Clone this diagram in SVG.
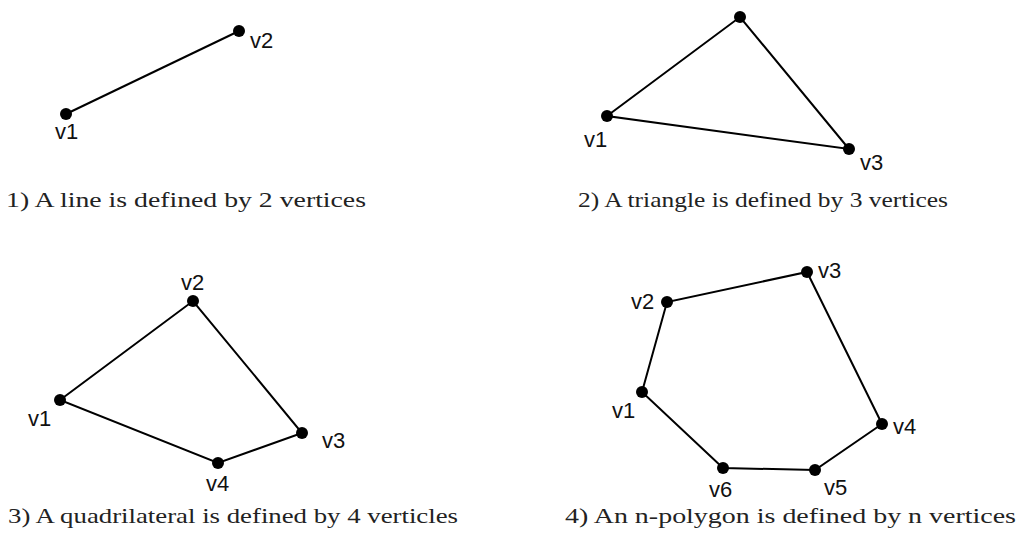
<svg xmlns="http://www.w3.org/2000/svg" width="1020" height="536" viewBox="0 0 1020 536">
<style>
.e{stroke:#000;stroke-width:2;fill:none}
.d{fill:#000}
.l{font-family:"Liberation Sans",Arial,sans-serif;font-size:22px;fill:#111}
.c{font-family:"Liberation Serif","Times New Roman",serif;font-size:22px;fill:#222}
</style>
<rect width="1020" height="536" fill="#fff"/>
<g id="connectors">
<line class="e" x1="66" y1="114" x2="239" y2="31"/>
<polygon class="e" points="607,116 740,17 849,149"/>
<polygon class="e" points="60,400 193,301 302,433 218,463"/>
<polygon class="e" points="642,392 667,302 807,272 882,424 815,470 723,468"/>
</g>
<g id="p1v1"><circle class="d" cx="66" cy="114" r="6"/><text class="l" x="55" y="139">v1</text></g>
<g id="p1v2"><circle class="d" cx="239" cy="31" r="6"/><text class="l" x="250" y="48">v2</text></g>
<g id="p2top"><circle class="d" cx="740" cy="17" r="6"/></g>
<g id="p2v1"><circle class="d" cx="607" cy="116" r="6"/><text class="l" x="584" y="147">v1</text></g>
<g id="p2v3"><circle class="d" cx="849" cy="149" r="6"/><text class="l" x="860" y="170">v3</text></g>
<g id="p3v1"><circle class="d" cx="60" cy="400" r="6"/><text class="l" x="28" y="426">v1</text></g>
<g id="p3v2"><circle class="d" cx="193" cy="301" r="6"/><text class="l" x="181" y="290">v2</text></g>
<g id="p3v3"><circle class="d" cx="302" cy="433" r="6"/><text class="l" x="322" y="448">v3</text></g>
<g id="p3v4"><circle class="d" cx="218" cy="463" r="6"/><text class="l" x="206" y="491">v4</text></g>
<g id="p4v1"><circle class="d" cx="642" cy="392" r="6"/><text class="l" x="612" y="418">v1</text></g>
<g id="p4v2"><circle class="d" cx="667" cy="302" r="6"/><text class="l" x="631" y="309">v2</text></g>
<g id="p4v3"><circle class="d" cx="807" cy="272" r="6"/><text class="l" x="818" y="278">v3</text></g>
<g id="p4v4"><circle class="d" cx="882" cy="424" r="6"/><text class="l" x="893" y="434">v4</text></g>
<g id="p4v5"><circle class="d" cx="815" cy="470" r="6"/><text class="l" x="824" y="495">v5</text></g>
<g id="p4v6"><circle class="d" cx="723" cy="468" r="6"/><text class="l" x="709" y="497">v6</text></g>
<g id="captions">
<text class="c" x="6" y="207" textLength="360" lengthAdjust="spacingAndGlyphs">1) A line is defined by 2 vertices</text>
<text class="c" x="578" y="207" textLength="370" lengthAdjust="spacingAndGlyphs">2) A triangle is defined by 3 vertices</text>
<text class="c" x="8" y="523" textLength="450" lengthAdjust="spacingAndGlyphs">3) A quadrilateral is defined by 4 verticles</text>
<text class="c" x="565" y="523" textLength="451" lengthAdjust="spacingAndGlyphs">4) An n-polygon is defined by n vertices</text>
</g>
</svg>
